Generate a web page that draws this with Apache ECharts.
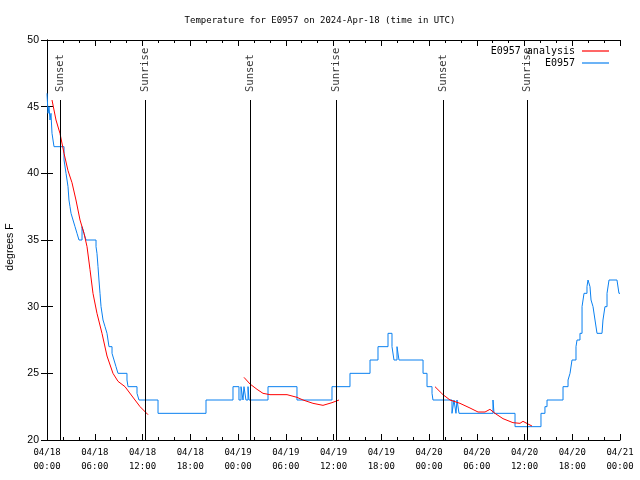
<!DOCTYPE html>
<html><head><meta charset="utf-8">
<script src="https://cdn.jsdelivr.net/npm/echarts@6/dist/echarts.min.js"></script>
<style>html,body{margin:0;padding:0;background:#fff}#c{width:640px;height:480px}</style>
</head><body><div id="c"></div>
<script>
// hours since 2024-04-18 00:00 UTC
const obsHours = [0,0.13,0.25,0.38,0.5,0.63,0.88,2.14,2.39,2.64,2.76,2.89,3.02,3.27,3.52,3.77,4.02,4.40,4.65,4.90,6.16,6.28,6.41,6.53,6.66,6.79,7.04,7.29,7.54,7.79,8.17,8.42,8.67,8.92,10.05,10.18,11.31,11.56,13.95,19.98,23.37,24.12,24.38,24.63,24.75,25.0,25.26,25.38,27.77,31.41,35.81,38.07,40.59,41.59,42.85,43.35,43.6,43.98,44.23,47.25,47.75,48.38,48.50,50.89,51.14,51.39,51.52,51.77,56.04,56.17,58.81,62.07,62.57,62.83,64.84,65.47,65.72,65.97,66.47,66.60,66.97,67.23,67.48,67.85,67.98,68.23,68.36,68.61,68.86,69.11,69.74,69.86,70.11,70.37,70.62,71.62,71.87,72.0];
const obsTemps = [46,44.5,45,44,44.5,43,42,41,40,39,38,37.5,37,36.5,36,35.5,35,36,35.5,35,34.5,34,33,32,31,30,29,28.5,28,27,26.5,26,25.5,25,24.5,24,23.5,23,22,23,24,23,24,23,24,23,24,23,24,23,24,25,26,27,28,27,26,27,26,25,24,23.5,23,22,23,22,23,22,23,22,21,22,22.5,23,24,24.5,25,26,27,27.5,28,30,31,31.5,32,31.5,30.5,30,29,28,28,29,30,31,32,32,31,31];

const an1Hours = [0.63,1.13,1.63,2.14,2.64,3.14,3.64,4.15,4.65,5.03,5.40,5.78,6.28,6.91,7.54,8.29,8.92,9.80,10.68,11.69,12.69];
const an1Temps = [45.5,44,43,41.5,40.2,39.3,38,36.5,35.5,34.5,32.8,31,29.5,28,26.3,25,24.4,24,23.3,22.5,21.9];
const an2Hours = [24.75,25.51,26.39,27.14,28.02,30.16,31.41,32.17,33.42,34.68,35.81,36.69];
const an2Temps = [24.7,24.2,23.8,23.5,23.4,23.4,23.2,23.0,22.75,22.6,22.8,23.0];
const an3Hours = [48.75,49.76,50.64,51.89,53.15,54.16,55.04,55.66,56.29,57.30,58.55,59.43,59.81,60.44,60.94];
const an3Temps = [24.0,23.4,23.0,22.75,22.4,22.1,22.1,22.3,22.0,21.6,21.3,21.25,21.4,21.2,21.05];

const sunHours = [1.63,12.3,25.6,36.3,49.8,60.4];
const sunLabels = ['Sunset','Sunrise','Sunset','Sunrise','Sunset','Sunrise'];
const xTickDays = ['04/18','04/18','04/18','04/18','04/19','04/19','04/19','04/19','04/20','04/20','04/20','04/20','04/21'];
const xTickTimes = ['00:00','06:00','12:00','18:00','00:00','06:00','12:00','18:00','00:00','06:00','12:00','18:00','00:00'];

const zip = (a,b)=>a.map((v,i)=>[v,b[i]]);
const mono = '"DejaVu Sans Mono", monospace';
const sans = '"Liberation Sans", Arial, sans-serif';
const RED = '#ff0000', BLUE = '#0a80f0';

const chart = echarts.init(document.getElementById('c'), null, {renderer:'canvas'});
const commonX = {
  type:'value', min:0, max:72, interval:6,
  axisLine:{show:true, lineStyle:{color:'#000', width:1}},
  axisTick:{show:true, inside:true, length:6, lineStyle:{color:'#000'}},
  minorTick:{show:true, splitNumber:3, length:3, lineStyle:{color:'#000'}},
  splitLine:{show:false}
};
const commonY = {
  type:'value', min:20, max:50, interval:5,
  axisLine:{show:true, lineStyle:{color:'#000', width:1}},
  axisTick:{show:true, inside:true, length:6, lineStyle:{color:'#000'}},
  splitLine:{show:false}
};
const anStyle = {type:'line', name:'E0957 analysis', showSymbol:false, symbol:'none', lineStyle:{color:RED, width:1}, itemStyle:{color:RED}, z:4, animation:false};

chart.setOption({
  animation:false,
  title:{text:'Temperature for E0957 on 2024-Apr-18 (time in UTC)', left:'center', top:11,
    textStyle:{fontFamily:mono, fontSize:9, fontWeight:'normal', color:'#000'}},
  grid:{left:47, right:20, top:40, bottom:40, containLabel:false, outerBoundsMode:'none'},
  legend:[
    {data:['E0957 analysis'], right:26, top:41, orient:'vertical', align:'right', icon:'rect', itemWidth:27, itemHeight:1.2, itemGap:4,
      textStyle:{fontFamily:mono, fontSize:10, color:'#000', padding:[0,2,0,0]}},
    {data:['E0957'], right:26, top:53, orient:'vertical', align:'right', icon:'rect', itemWidth:27, itemHeight:1.2,
      textStyle:{fontFamily:mono, fontSize:10, color:'#000', padding:[0,2,0,0]}}
  ],
  xAxis:[
    Object.assign({}, commonX, {position:'bottom',
      axisLabel:{show:true, margin:6, fontFamily:mono, fontSize:9, color:'#000', lineHeight:14,
        formatter:(v)=>{const i=Math.round(v/6); return xTickDays[i]+'\n'+xTickTimes[i];}}}),
    Object.assign({}, commonX, {position:'top', axisLabel:{show:false}})
  ],
  yAxis:[
    Object.assign({}, commonY, {position:'left', name:'degrees F', nameLocation:'middle', nameGap:31, nameRotate:90,
      nameTextStyle:{fontFamily:sans, fontSize:10.5, color:'#000', padding:[0,14,0,0]},
      axisLabel:{show:true, margin:8, fontFamily:sans, fontSize:10.5, color:'#000'}}),
    Object.assign({}, commonY, {position:'right', axisLabel:{show:false}})
  ],
  series:[
    Object.assign({}, anStyle, {data:zip(an1Hours, an1Temps)}),
    Object.assign({}, anStyle, {data:zip(an2Hours, an2Temps)}),
    Object.assign({}, anStyle, {data:zip(an3Hours, an3Temps)}),
    {type:'line', name:'E0957', data:zip(obsHours, obsTemps), step:'end', showSymbol:false, symbol:'none',
      lineStyle:{color:BLUE, width:1}, itemStyle:{color:BLUE}, z:3},
    {type:'line', name:'sun', data:[], silent:true,
      markLine:{silent:true, symbol:'none', label:{show:false}, lineStyle:{color:'#000', width:1, type:'solid'},
        data:sunHours.map(h=>[{coord:[h,20]},{coord:[h,45.5]}])}},
    {type:'scatter', name:'sunlabels', data:sunHours.map(h=>[h,46.1]), symbolSize:0, silent:true,
      label:{show:true, position:'inside', rotate:90, align:'left', verticalAlign:'middle',
        fontFamily:mono, fontSize:10.5, color:'#000',
        formatter:(p)=>sunLabels[p.dataIndex]}}
  ]
});
</script></body></html>
